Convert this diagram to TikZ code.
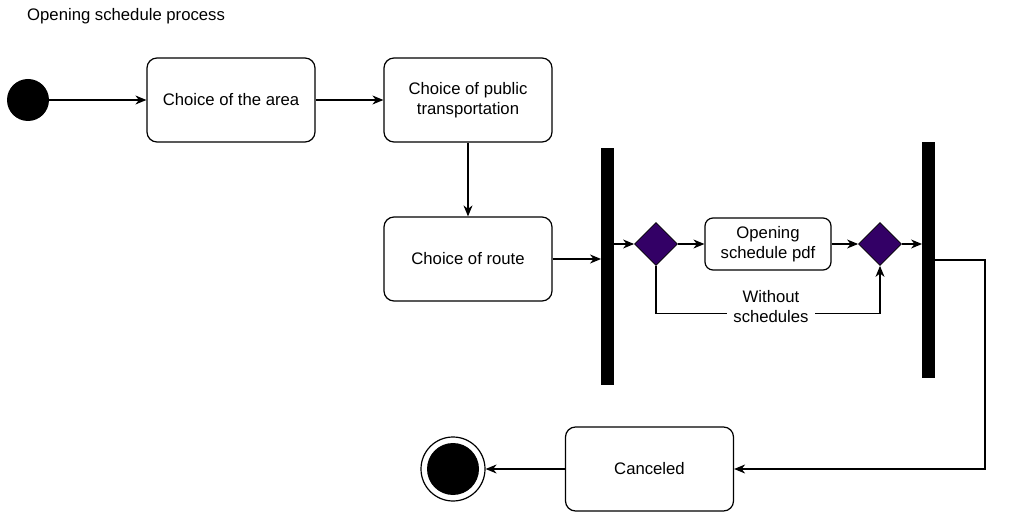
\documentclass[tikz,border=0pt]{standalone}
\usepackage{fontspec}
\setmainfont{Liberation Sans}
\usetikzlibrary{arrows.meta,shapes.geometric,calc}
\definecolor{dpurple}{RGB}{51,0,102}
\begin{document}
\begin{tikzpicture}[x=1pt,y=-1pt,
  every node/.style={font=\fontsize{16.7}{20}\selectfont},
  box/.style={draw,line width=1.2pt,rounded corners=10pt,minimum width=168pt,minimum height=84pt,align=center,inner sep=0pt},
  smallbox/.style={draw,line width=1.2pt,rounded corners=8pt,minimum width=126pt,minimum height=52pt,align=center,inner sep=0pt},
  bar/.style={fill=black,draw=none,minimum width=12.5pt,inner sep=0pt},
  dec/.style={diamond,draw,line width=0.8pt,fill=dpurple,minimum width=43pt,minimum height=43pt,inner sep=0pt,aspect=1},
  arr/.style={line width=1.2pt,-{Stealth[length=11pt,width=9pt,inset=3.5pt]}},
  ln/.style={line width=1.2pt}]
\useasboundingbox (0,0) rectangle (1010,521);
\node[anchor=west,inner sep=0pt] (title) at (27,16) {Opening schedule process};
\node[circle,fill=black,minimum size=42pt,inner sep=0pt] (start) at (28,100) {};
\node[box] (area) at (231,100) {Choice of the area};
\node[box] (pub) at (468,100) {Choice of public\\transportation};
\node[box] (route) at (468,259) {Choice of route};
\node[bar,minimum height=237pt] (bar1) at (607.5,266.5) {};
\node[dec] (d1) at (656,244) {};
\node[smallbox] (pdf) at (768,244) {Opening\\schedule pdf};
\node[dec] (d2) at (880,244) {};
\node[bar,minimum height=236pt] (bar2) at (928.5,260) {};
\node[box] (cancel) at (649.5,469) {Canceled};
\node[circle,draw,line width=1.2pt,fill=white,minimum size=64pt,inner sep=0pt] (end) at (453,469) {};
\node[circle,fill=black,minimum size=52pt,inner sep=0pt] (endin) at (453,469) {};
\draw[arr] (start.east) -- (area.west);
\draw[arr] (area.east) -- (pub.west);
\draw[arr] (pub.south) -- (route.north);
\draw[arr] (route.east) -- (route.east -| bar1.west);
\draw[arr] (bar1.east |- d1.west) -- (d1.west);
\draw[arr] (d1.east) -- (pdf.west);
\draw[arr] (pdf.east) -- (d2.west);
\draw[arr] (d2.east) -- (d2.east -| bar2.west);
\coordinate (wl) at ($(d1.south)+(0,48)$);
\draw[arr] (d1.south) -- (wl) -| (d2.south);
\node[fill=white,align=center,inner xsep=6pt,inner ysep=1pt] (wlabel) at (771,307) {Without\\schedules};
\coordinate (rc) at (985,260);
\draw[arr] (bar2.east |- rc) -- (rc) |- (cancel.east);
\draw[arr] (cancel.west) -- (end.east);
\end{tikzpicture}
\end{document}
